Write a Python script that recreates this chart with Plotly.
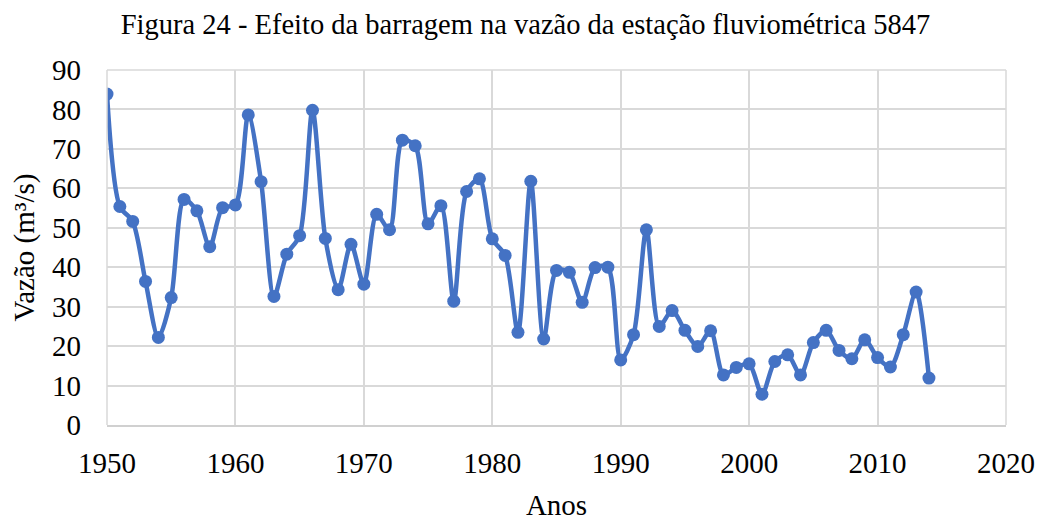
import plotly.graph_objects as go

anos = list(range(1950, 2015))
vazao = [83.9, 55.4, 51.6, 36.4, 22.2, 32.3, 57.2, 54.3, 45.2, 55.1,
         55.8, 78.6, 61.7, 32.6, 43.3, 48.0, 79.8, 47.3, 34.3, 45.8,
         35.7, 53.4, 49.5, 72.2, 70.8, 51.0, 55.6, 31.4, 59.2, 62.4,
         47.2, 43.0, 23.5, 61.8, 21.8, 39.2, 38.7, 31.1, 39.9, 40.0,
         16.5, 22.9, 49.5, 25.0, 29.0, 24.0, 19.9, 23.9, 12.7, 14.6,
         15.5, 7.8, 16.1, 17.8, 12.7, 20.9, 24.0, 18.9, 16.8, 21.6,
         17.1, 14.7, 22.9, 33.7, 11.9]

x_ticks = [1950, 1960, 1970, 1980, 1990, 2000, 2010, 2020]
y_ticks = [0, 10, 20, 30, 40, 50, 60, 70, 80, 90]

FONT = "Liberation Serif"
COLOR = "#4472C4"

fig = go.Figure()
fig.add_trace(go.Scatter(
    x=anos, y=vazao, mode="lines+markers",
    line=dict(color=COLOR, width=4.5, shape="spline", smoothing=0.8),
    marker=dict(color=COLOR, size=13),
    showlegend=False,
))

# page body has an 8px margin, so the figure is drawn 8px smaller
fig.update_layout(
    width=1035, height=513,
    margin=dict(l=99, r=37, t=62, b=96, autoexpand=False),
    paper_bgcolor="white", plot_bgcolor="white",
    font=dict(family=FONT, color="black"),
    title=dict(text="Figura 24 - Efeito da barragem na vazão da estação fluviométrica 5847",
               x=0.5, xanchor="center", y=0.968, yanchor="middle",
               font=dict(family=FONT, size=28.5, color="black")),
)
fig.update_xaxes(
    range=[1950, 2020], tickvals=x_ticks, ticktext=[str(v) for v in x_ticks],
    showgrid=True, gridcolor="#d9d9d9", gridwidth=1.5,
    showline=True, linecolor="#d0d0d0", linewidth=1.5, mirror=False,
    zeroline=False, ticks="", tickfont=dict(family=FONT, size=29, color="black"),
    ticklabelstandoff=11,
    title=dict(text="Anos", font=dict(family=FONT, size=29, color="black"), standoff=21),
)
fig.update_yaxes(
    range=[0, 90], tickvals=y_ticks, ticktext=[str(v) for v in y_ticks],
    showgrid=True, gridcolor="#d9d9d9", gridwidth=1.5,
    showline=False, zeroline=False, ticks="",
    tickfont=dict(family=FONT, size=29, color="black"),
    ticklabelstandoff=25,
    title=dict(text="Vazão (m³/s)", font=dict(family=FONT, size=29, color="black"), standoff=10),
)
fig.add_shape(type="line", xref="paper", yref="paper", x0=1, x1=1, y0=0, y1=1,
              line=dict(color="#d9d9d9", width=1.5))
fig.add_shape(type="line", xref="paper", yref="paper", x0=0, x1=1, y0=1, y1=1,
              line=dict(color="#d9d9d9", width=1.5))
fig.add_shape(type="line", xref="paper", yref="paper", x0=0, x1=0, y0=0, y1=1,
              line=dict(color="#d9d9d9", width=1.5))

fig.write_html("out.html")
